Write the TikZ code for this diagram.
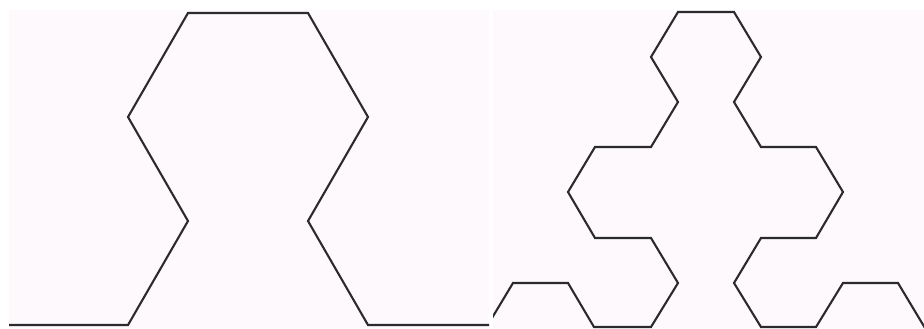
\documentclass[tikz,border=0pt]{standalone}
\usepackage{xcolor}
\definecolor{panelbg}{HTML}{FDF9FD}
\definecolor{curve}{HTML}{2B2B2B}
\begin{document}
\begin{tikzpicture}[x=1pt,y=-1pt,
  fractal/.style={draw=curve,line width=2.1pt,line join=miter}]
\useasboundingbox (0,0) rectangle (924,329);
\fill[white] (0,0) rectangle (924,329);
% left panel
\begin{scope}
\clip (9,10) rectangle (489,329);
\fill[panelbg] (9,10) rectangle (489,329);
\draw[fractal] (9,325) -- (128,325) -- (188,221) -- (128,117) -- (188,13) -- (308,13)
  -- (368,117) -- (308,221) -- (368,325) -- (489,325);
\end{scope}
% right panel
\begin{scope}
\clip (493,10) rectangle (924,329);
\fill[panelbg] (493,10) rectangle (924,329);
\draw[fractal] (486,328) -- (513,283) -- (568,283) -- (594,327) -- (651,327) -- (678,283)
  -- (651,238) -- (595,238) -- (568,192) -- (595,147) -- (651,147) -- (678,102)
  -- (651,57) -- (678,12) -- (734,12) -- (761,57) -- (734,102) -- (761,147)
  -- (816,147) -- (843,192) -- (816,238) -- (761,238) -- (734,283) -- (761,327)
  -- (816,327) -- (843,283) -- (898,283) -- (925,328);
\end{scope}
\end{tikzpicture}
\end{document}
